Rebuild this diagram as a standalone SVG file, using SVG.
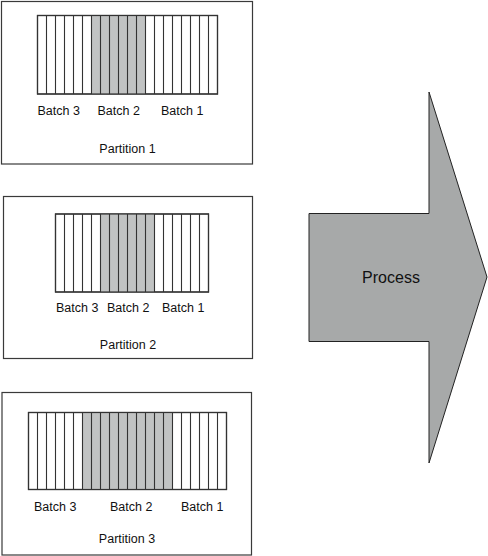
<svg xmlns="http://www.w3.org/2000/svg" width="488" height="556" viewBox="0 0 488 556">
<style>
.box{fill:#fff;stroke:#3a3a3a;stroke-width:1.2}
.bar{fill:#fff;stroke:#333;stroke-width:1.2}
.gray{fill:#c1c3c3;stroke:none}
.lines{stroke:#333;stroke-width:1.1;fill:none}
.t{font-family:"Liberation Sans",Arial,sans-serif;font-size:12.5px;fill:#111}
.c{text-anchor:middle}
.arrow{fill:#a7a9a9;stroke:#222;stroke-width:1}
.pt{font-family:"Liberation Sans",Arial,sans-serif;font-size:16px;fill:#111;text-anchor:middle}
</style>
<rect width="488" height="556" fill="#fff"/>
<g id="partition1">
<rect class="box" x="1.5" y="1.5" width="251" height="162.5"/>
<rect class="bar" x="37.5" y="15.5" width="180" height="78.5"/>
<rect class="gray" x="91.5" y="15.5" width="54" height="78.5"/>
<path class="lines" d="M46.5 15.5V94M55.5 15.5V94M64.5 15.5V94M73.5 15.5V94M82.5 15.5V94M91.5 15.5V94M100.5 15.5V94M109.5 15.5V94M118.5 15.5V94M127.5 15.5V94M136.5 15.5V94M145.5 15.5V94M154.5 15.5V94M163.5 15.5V94M172.5 15.5V94M181.5 15.5V94M190.5 15.5V94M199.5 15.5V94M208.5 15.5V94"/>
<rect class="bar" x="37.5" y="15.5" width="180" height="78.5" fill="none" style="fill:none"/>
<text class="t" x="37.5" y="115">Batch 3</text>
<text class="t" x="97.5" y="115">Batch 2</text>
<text class="t" x="161" y="115">Batch 1</text>
<text class="t c" x="127.5" y="153">Partition 1</text>
</g>
<g id="partition2">
<rect class="box" x="3.5" y="196.5" width="249" height="162"/>
<rect class="bar" x="55.5" y="214" width="153" height="78"/>
<rect class="gray" x="100.5" y="214" width="54" height="78"/>
<path class="lines" d="M64.5 214V292M73.5 214V292M82.5 214V292M91.5 214V292M100.5 214V292M109.5 214V292M118.5 214V292M127.5 214V292M136.5 214V292M145.5 214V292M154.5 214V292M163.5 214V292M172.5 214V292M181.5 214V292M190.5 214V292M199.5 214V292"/>
<rect class="bar" x="55.5" y="214" width="153" height="78" style="fill:none"/>
<text class="t" x="56" y="312">Batch 3</text>
<text class="t" x="107" y="312">Batch 2</text>
<text class="t" x="162" y="312">Batch 1</text>
<text class="t c" x="128" y="349">Partition 2</text>
</g>
<g id="partition3">
<rect class="box" x="2" y="392.5" width="249.5" height="162.5"/>
<rect class="bar" x="28.5" y="412.5" width="198" height="77"/>
<rect class="gray" x="82.5" y="412.5" width="90" height="77"/>
<path class="lines" d="M37.5 412.5V489.5M46.5 412.5V489.5M55.5 412.5V489.5M64.5 412.5V489.5M73.5 412.5V489.5M82.5 412.5V489.5M91.5 412.5V489.5M100.5 412.5V489.5M109.5 412.5V489.5M118.5 412.5V489.5M127.5 412.5V489.5M136.5 412.5V489.5M145.5 412.5V489.5M154.5 412.5V489.5M163.5 412.5V489.5M172.5 412.5V489.5M181.5 412.5V489.5M190.5 412.5V489.5M199.5 412.5V489.5M208.5 412.5V489.5M217.5 412.5V489.5"/>
<rect class="bar" x="28.5" y="412.5" width="198" height="77" style="fill:none"/>
<text class="t" x="34" y="511">Batch 3</text>
<text class="t" x="110" y="511">Batch 2</text>
<text class="t" x="181" y="511">Batch 1</text>
<text class="t c" x="127" y="543">Partition 3</text>
</g>
<g id="process">
<path class="arrow" d="M309 213.5H429V92L487 277L429 463V341.5H309Z"/>
<text class="pt" x="391" y="283">Process</text>
</g>
</svg>
